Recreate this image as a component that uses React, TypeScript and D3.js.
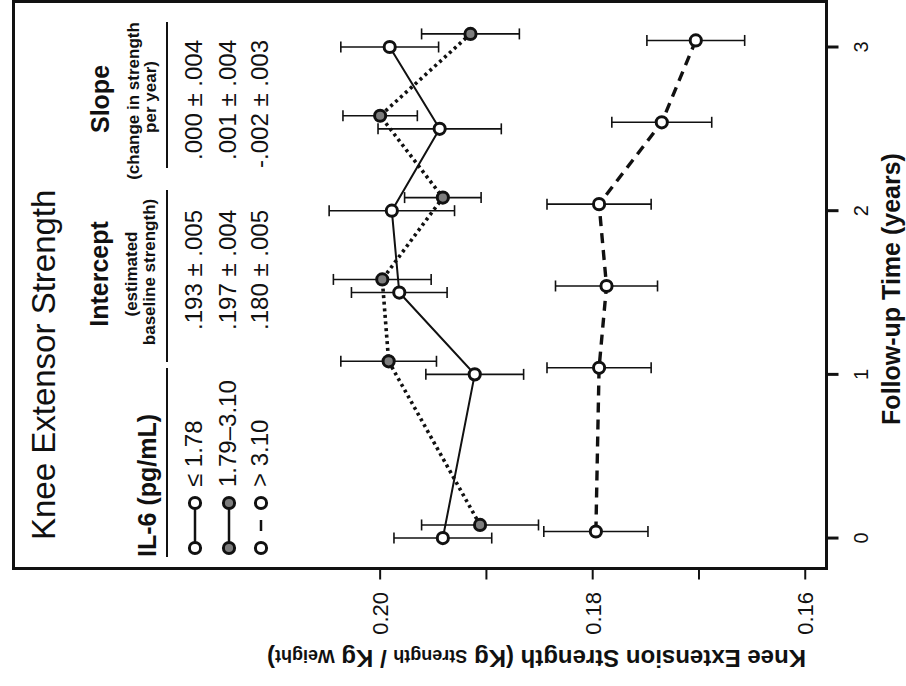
import React from "react";
import * as d3 from "d3";

// follow-up visits (years)
const times = [0, 1, 1.5, 2, 2.5, 3];

// IL-6 <= 1.78
const lowMean = [0.1941, 0.1911, 0.1982, 0.1989, 0.1944, 0.1991];
const lowErr = [0.0046, 0.0046, 0.0045, 0.0059, 0.0058, 0.0046];
// IL-6 1.79-3.10
const midMean = [0.1906, 0.1992, 0.1998, 0.1941, 0.2, 0.1915];
const midErr = [0.0055, 0.0045, 0.0046, 0.0036, 0.0035, 0.0046];
// IL-6 > 3.10
const highMean = [0.1797, 0.1794, 0.1787, 0.1794, 0.1735, 0.1703];
const highErr = [0.0049, 0.0049, 0.0048, 0.0049, 0.0047, 0.0046];

const groups = ["≤ 1.78", "1.79–3.10", "> 3.10"];
const intercepts = [".193 ± .005", ".197 ± .004", ".180 ± .005"];
const slopes = [".000 ± .004", ".001 ± .004", "-.002 ± .003"];

const strengthTicks = [0.2, 0.19, 0.18, 0.17, 0.16];
const strengthLabels = ["0.20", "", "0.18", "", "0.16"];
const timeTicks = [0, 1, 2, 3];

const W = 906;
const H = 686;
const box = { left: 13.5, right: 826.5, top: 1.5, bottom: 568.5 };
const font = "'Liberation Sans', Arial, Helvetica, sans-serif";

// the figure is printed rotated: strength runs left->right, time runs bottom->top
const sx = d3.scaleLinear().domain([0.2345, 0.158]).range([box.left, box.right]);
const ty = d3.scaleLinear().domain([-0.186, 3.278]).range([box.bottom, box.top]);

const series = [
  { mean: lowMean, err: lowErr, shift: 0, fill: "#ffffff", dash: "none", width: 2 },
  { mean: midMean, err: midErr, shift: 0.08, fill: "#7d7d7d", dash: "3 3.6", width: 3.6 },
  { mean: highMean, err: highErr, shift: 0.04, fill: "#ffffff", dash: "10 7", width: 3.4 },
];

const rowX = [202, 236, 268];

const rot = (x: number, y: number, a = -90) => `translate(${x},${y}) rotate(${a})`;

const Series = ({ s }: { s: (typeof series)[number] }) => {
  const pts = times.map((t, i) => ({ t: t + s.shift, v: s.mean[i], e: s.err[i] }));
  const line = d3
    .line<{ t: number; v: number }>()
    .x((d) => sx(d.v))
    .y((d) => ty(d.t));
  return (
    <g>
      {pts.map((d, i) => (
        <g key={i} stroke="#111" strokeWidth={1.6}>
          <line x1={sx(d.v - d.e)} x2={sx(d.v + d.e)} y1={ty(d.t)} y2={ty(d.t)} />
          <line x1={sx(d.v - d.e)} x2={sx(d.v - d.e)} y1={ty(d.t) - 5.5} y2={ty(d.t) + 5.5} />
          <line x1={sx(d.v + d.e)} x2={sx(d.v + d.e)} y1={ty(d.t) - 5.5} y2={ty(d.t) + 5.5} />
        </g>
      ))}
      <path d={line(pts) || ""} fill="none" stroke="#111" strokeWidth={s.width} strokeDasharray={s.dash} />
      {pts.map((d, i) => (
        <circle key={i} cx={sx(d.v)} cy={ty(d.t)} r={5.6} fill={s.fill} stroke="#111" strokeWidth={3} />
      ))}
    </g>
  );
};

export default function App() {
  return (
    <svg
      width={W}
      height={H}
      style={{ position: "absolute", left: 0, top: 0, background: "#fff" }}
      fontFamily={font}
      fill="#111"
    >
      <rect x={0} y={0} width={W} height={H} fill="#fff" />
      <rect
        x={box.left}
        y={box.top}
        width={box.right - box.left}
        height={box.bottom - box.top}
        fill="none"
        stroke="#111"
        strokeWidth={3}
      />

      {/* strength axis (bottom) */}
      {strengthTicks.map((v, i) => (
        <g key={v}>
          <line x1={sx(v)} x2={sx(v)} y1={box.bottom} y2={box.bottom + 11} stroke="#111" strokeWidth={2} />
          {strengthLabels[i] && (
            <text transform={rot(sx(v) + 8, 592)} textAnchor="end" fontSize={22}>
              {strengthLabels[i]}
            </text>
          )}
        </g>
      ))}
      <text transform={rot(806, 650, 180)} fontSize={24} fontWeight="bold">
        Knee Extension Strength (Kg <tspan fontSize={18}>Strength</tspan> / Kg{" "}
        <tspan fontSize={18}>Weight</tspan>)
      </text>

      {/* time axis (right) */}
      {timeTicks.map((t) => (
        <g key={t}>
          <line x1={box.right} x2={box.right + 12} y1={ty(t)} y2={ty(t)} stroke="#111" strokeWidth={3} />
          <text transform={rot(868, ty(t))} textAnchor="middle" fontSize={20}>
            {t}
          </text>
        </g>
      ))}
      <text transform={rot(900, 289)} textAnchor="middle" fontSize={25} fontWeight="bold">
        Follow-up Time (years)
      </text>

      {/* title and table */}
      <text transform={rot(55, 540)} fontSize={33}>
        Knee Extensor Strength
      </text>

      <text transform={rot(156, 557)} fontSize={25} fontWeight="bold">
        IL-6 (pg/mL)
      </text>
      <line x1={167} x2={167} y1={368} y2={557} stroke="#111" strokeWidth={2} />

      <text transform={rot(108, 274)} textAnchor="middle" fontSize={25} fontWeight="bold">
        Intercept
      </text>
      <text transform={rot(137, 274)} textAnchor="middle" fontSize={17} fontWeight="bold">
        (estimated
      </text>
      <text transform={rot(155, 272)} textAnchor="middle" fontSize={17} fontWeight="bold">
        baseline strength)
      </text>
      <line x1={167} x2={167} y1={190} y2={362} stroke="#111" strokeWidth={2} />

      <text transform={rot(109, 99)} textAnchor="middle" fontSize={25} fontWeight="bold">
        Slope
      </text>
      <text transform={rot(139, 101)} textAnchor="middle" fontSize={17} fontWeight="bold">
        (change in strength
      </text>
      <text transform={rot(156, 97)} textAnchor="middle" fontSize={17} fontWeight="bold">
        per year)
      </text>
      <line x1={167} x2={167} y1={22} y2={168} stroke="#111" strokeWidth={2} />

      {groups.map((g, i) => {
        const s = series[i];
        const cx = rowX[i] - 7;
        return (
          <g key={g}>
            <line
              x1={cx}
              x2={cx}
              y1={503}
              y2={548}
              stroke="#111"
              strokeWidth={2.5}
              strokeDasharray={i === 2 ? "0 17 11 17" : "none"}
            />
            <circle cx={cx} cy={503} r={5.6} fill={s.fill} stroke="#111" strokeWidth={3} />
            <circle cx={cx} cy={548} r={5.6} fill={s.fill} stroke="#111" strokeWidth={3} />
            <text transform={rot(rowX[i], 487)} fontSize={24}>
              {g}
            </text>
            <text transform={rot(rowX[i], 210)} textAnchor="end" fontSize={24}>
              {intercepts[i]}
            </text>
            <text transform={rot(rowX[i], 40)} textAnchor="end" fontSize={24}>
              {slopes[i]}
            </text>
          </g>
        );
      })}

      {series.map((s, i) => (
        <Series key={i} s={s} />
      ))}
    </svg>
  );
}
